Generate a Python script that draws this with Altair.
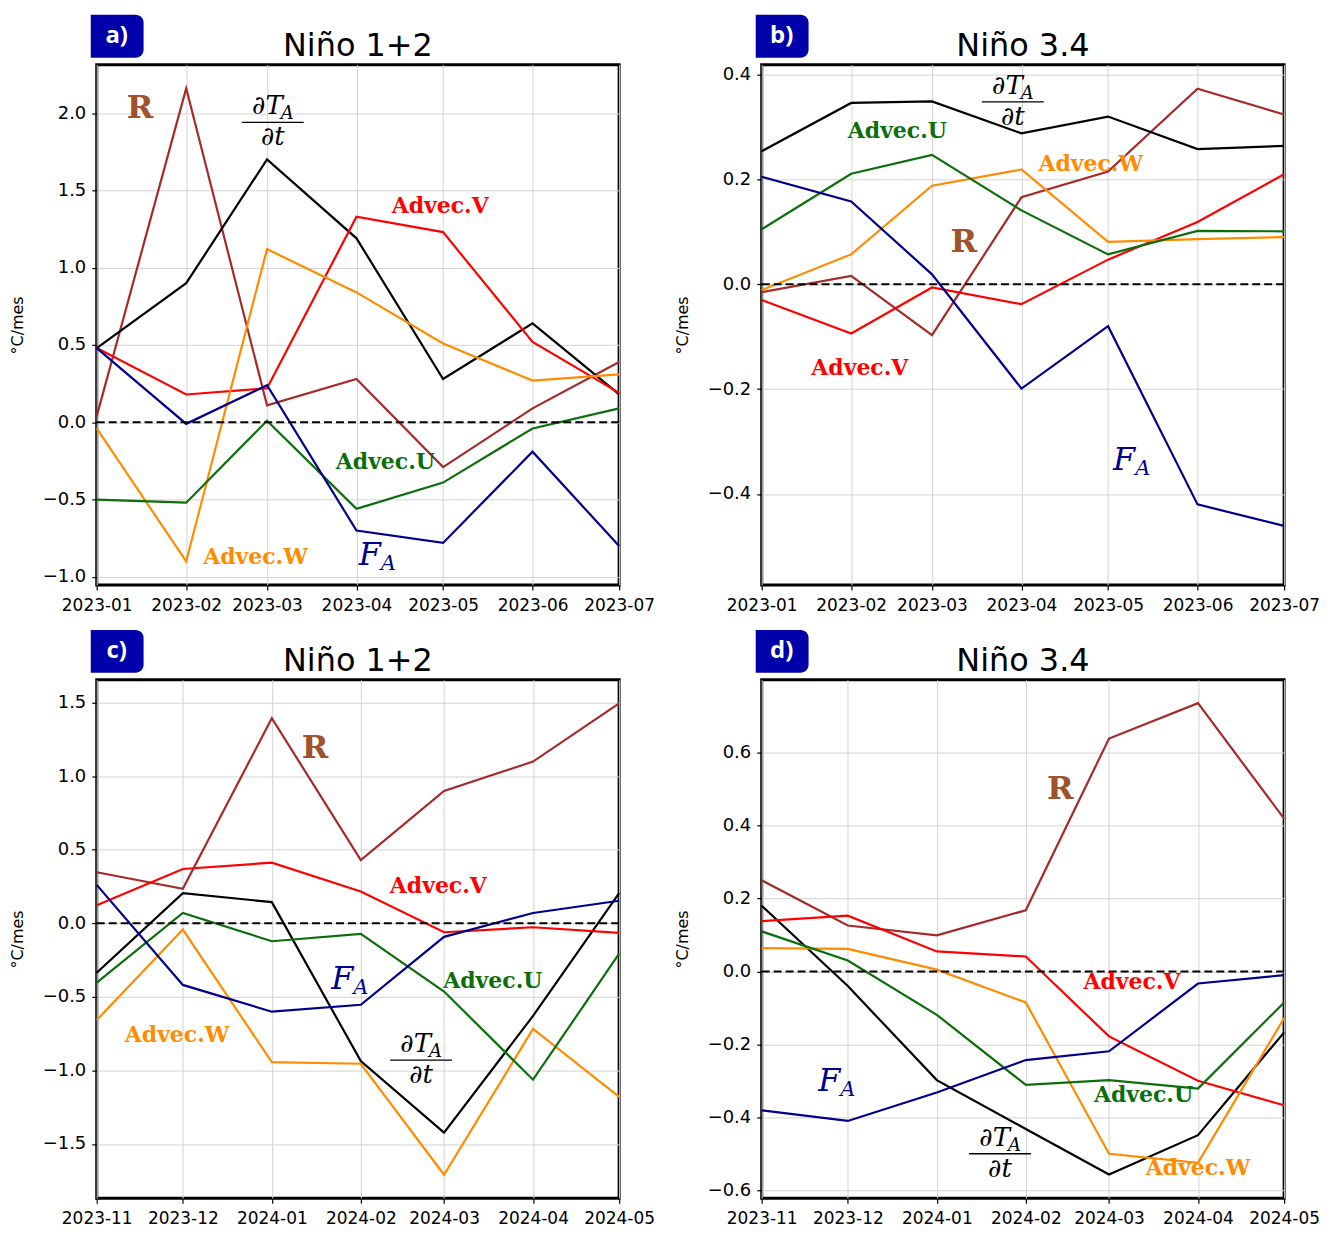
import altair as alt
import pandas as pd

# ---------------- data ----------------
SERIES = ["Advec.U", "Advec.V", "Advec.W", "F_A", "R", "dTdt"]
COLORS = ["#0b6e0b", "#ff0000", "#ff8c00", "#00008b", "#a52a2a", "#000000"]

MONTHS_1 = ["2023-01-01", "2023-02-01", "2023-03-01", "2023-04-01",
            "2023-05-01", "2023-06-01", "2023-07-01"]
MONTHS_2 = ["2023-11-01", "2023-12-01", "2024-01-01", "2024-02-01",
            "2024-03-01", "2024-04-01", "2024-05-01"]

# panel a) Niño 1+2, 2023-01 .. 2023-07
a_R = [0.04, 2.16, 0.11, 0.28, -0.29, 0.09, 0.39]
a_dT = [0.48, 0.90, 1.70, 1.19, 0.28, 0.64, 0.18]
a_V = [0.48, 0.18, 0.22, 1.33, 1.23, 0.52, 0.19]
a_W = [-0.04, -0.90, 1.12, 0.84, 0.51, 0.27, 0.31]
a_U = [-0.50, -0.52, 0.01, -0.56, -0.39, -0.04, 0.09]
a_F = [0.48, -0.01, 0.24, -0.70, -0.78, -0.19, -0.80]

# panel b) Niño 3.4, 2023-01 .. 2023-07
b_R = [-0.015, 0.016, -0.097, 0.166, 0.215, 0.373, 0.324]
b_dT = [0.254, 0.346, 0.349, 0.288, 0.320, 0.258, 0.264]
b_V = [-0.030, -0.094, -0.006, -0.038, 0.047, 0.119, 0.210]
b_W = [-0.011, 0.057, 0.188, 0.219, 0.081, 0.086, 0.090]
b_U = [0.105, 0.211, 0.247, 0.141, 0.057, 0.102, 0.101]
b_F = [0.205, 0.158, 0.019, -0.199, -0.080, -0.420, -0.461]

# panel c) Niño 1+2, 2023-11 .. 2024-05
c_R = [0.347, 0.234, 1.394, 0.430, 0.900, 1.099, 1.495]
c_dT = [-0.336, 0.205, 0.144, -0.937, -1.423, -0.63, 0.205]
c_V = [0.122, 0.369, 0.412, 0.216, -0.061, -0.027, -0.065]
c_W = [-0.658, -0.043, -0.944, -0.955, -1.709, -0.718, -1.180]
c_U = [-0.403, 0.070, -0.122, -0.072, -0.464, -1.063, -0.207]
c_F = [0.261, -0.419, -0.601, -0.554, -0.092, 0.070, 0.153]

# panel d) Niño 3.4, 2023-11 .. 2024-05
d_R = [0.250, 0.126, 0.099, 0.168, 0.639, 0.736, 0.419]
d_dT = [0.180, -0.040, -0.298, -0.432, -0.557, -0.449, -0.167]
d_V = [0.138, 0.153, 0.055, 0.041, -0.178, -0.300, -0.367]
d_W = [0.064, 0.062, 0.005, -0.085, -0.500, -0.525, -0.128]
d_U = [0.110, 0.030, -0.119, -0.311, -0.298, -0.321, -0.085]
d_F = [-0.381, -0.410, -0.332, -0.243, -0.219, -0.033, -0.010]

# y axis limits and ticks
YDOM_A = [-1.053, 2.313]
YDOM_B = [-0.574, 0.419]
YDOM_C = [-1.869, 1.655]
YDOM_D = [-0.622, 0.800]
YTICKS_A = [-1.0, -0.5, 0.0, 0.5, 1.0, 1.5, 2.0]
YTICKS_B = [-0.4, -0.2, 0.0, 0.2, 0.4]
YTICKS_C = [-1.5, -1.0, -0.5, 0.0, 0.5, 1.0, 1.5]
YTICKS_D = [-0.6, -0.4, -0.2, 0.0, 0.2, 0.4, 0.6]

# annotation anchors (label, date, value) in data coordinates
ANN_A = [("R", "2023-01-16", 2.03), ("frac", "2023-03-03", 1.94),
         ("Advec.V", "2023-04-30", 1.40), ("Advec.U", "2023-04-11", -0.26),
         ("Advec.W", "2023-02-25", -0.87), ("F_A", "2023-04-08", -0.86)]
ANN_B = [("frac", "2023-03-29", 0.348), ("Advec.U", "2023-02-17", 0.293),
         ("Advec.W", "2023-04-25", 0.229), ("R", "2023-03-12", 0.081),
         ("Advec.V", "2023-02-04", -0.159), ("F_A", "2023-05-09", -0.336)]
ANN_C = [("R", "2024-01-16", 1.19), ("Advec.V", "2024-02-28", 0.25),
         ("F_A", "2024-01-28", -0.38), ("Advec.U", "2024-03-18", -0.39),
         ("Advec.W", "2023-11-29", -0.76), ("frac", "2024-02-22", -0.93)]
ANN_D = [("R", "2024-02-13", 0.50), ("Advec.V", "2024-03-09", -0.028),
         ("Advec.U", "2024-03-13", -0.34), ("Advec.W", "2024-04-01", -0.54),
         ("F_A", "2023-11-27", -0.30), ("frac", "2024-01-23", -0.50)]

PW, PH1, PH2 = 524, 522, 520
MATH_FONT = "DejaVu Serif"


def dt(s):
    return alt.DateTime(year=int(s[:4]), month=int(s[5:7]), date=int(s[8:10]), utc=True)


def panel(months, vals, anns, ydom, yticks, title, tag, height):
    names = ["R", "dTdt", "Advec.V", "Advec.W", "Advec.U", "F_A"]
    rows = []
    for name, series in zip(names, vals):
        for m, v in zip(months, series):
            rows.append({"date": m, "value": v, "series": name})
    df = pd.DataFrame(rows)

    xenc = alt.X("date:T",
                 scale=alt.Scale(type="utc", domain=[dt(months[0]), dt(months[-1])]),
                 axis=alt.Axis(title=None, values=[dt(m) for m in months], format="%Y-%m",
                               labelOverlap=False, labelFlush=False, labelPadding=7,
                               labelFontSize=17))
    yenc = alt.Y("value:Q",
                 scale=alt.Scale(domain=ydom, nice=False, zero=False),
                 axis=alt.Axis(title="°C/mes", values=yticks, format=".1f",
                               labelPadding=6, minExtent=63, maxExtent=63, titlePadding=8))

    lines = alt.Chart(df).mark_line(strokeWidth=2.2).encode(
        x=xenc, y=yenc,
        color=alt.Color("series:N", scale=alt.Scale(domain=SERIES, range=COLORS), legend=None),
        detail="series:N")

    zero = alt.Chart(pd.DataFrame({"value": [0.0]})).mark_rule(
        color="black", strokeWidth=2, strokeDash=[8, 4]).encode(y=yenc)

    adf = pd.DataFrame(anns, columns=["label", "date", "value"])
    adv = adf[adf["label"].str.startswith("Advec")]
    rdf = adf[adf["label"] == "R"]
    fdf = adf[adf["label"] == "F_A"]
    qdf = adf[adf["label"] == "frac"]

    adv_t = alt.Chart(adv).mark_text(font=MATH_FONT, fontWeight="bold", fontSize=22,
                                     align="center", baseline="middle").encode(
        x=xenc, y=yenc, text="label:N",
        color=alt.Color("label:N", scale=alt.Scale(domain=SERIES, range=COLORS), legend=None))
    r_t = alt.Chart(rdf).mark_text(font=MATH_FONT, fontWeight="bold", fontSize=32,
                                   color="#a0522d", align="center", baseline="middle").encode(
        x=xenc, y=yenc, text=alt.value("R"))
    f_t = alt.Chart(fdf).mark_text(font=MATH_FONT, fontStyle="italic", fontSize=32,
                                   color="#00008b", align="center", baseline="middle",
                                   dx=-7).encode(x=xenc, y=yenc, text=alt.value("F"))
    fa_t = alt.Chart(fdf).mark_text(font=MATH_FONT, fontStyle="italic", fontSize=21,
                                    color="#00008b", align="left", baseline="middle",
                                    dx=4, dy=9).encode(x=xenc, y=yenc, text=alt.value("A"))
    num_t = alt.Chart(qdf).mark_text(font=MATH_FONT, fontStyle="italic", fontSize=26,
                                     color="black", align="right", baseline="alphabetic",
                                     dx=10, dy=-8).encode(x=xenc, y=yenc, text=alt.value("∂T"))
    sub_t = alt.Chart(qdf).mark_text(font=MATH_FONT, fontStyle="italic", fontSize=18,
                                     color="black", align="left", baseline="alphabetic",
                                     dx=8, dy=-3).encode(x=xenc, y=yenc, text=alt.value("A"))
    bar = alt.Chart(qdf).mark_rule(color="black", strokeWidth=1.3, xOffset=-31,
                                   x2Offset=31).encode(x=xenc, x2="date:T", y=yenc)
    den_t = alt.Chart(qdf).mark_text(font=MATH_FONT, fontStyle="italic", fontSize=26,
                                     color="black", align="center", baseline="alphabetic",
                                     dy=23).encode(x=xenc, y=yenc, text=alt.value("∂t"))

    tagdf = pd.DataFrame({"tag": [tag], "title": [title]})
    badge = alt.Chart(tagdf).mark_rect(color="#0000aa", cornerRadiusTopRight=8,
                                       cornerRadiusBottomRight=8).encode(
        x=alt.value(-6), x2=alt.value(47), y=alt.value(-50), y2=alt.value(-7))
    badge_t = alt.Chart(tagdf).mark_text(color="white", fontSize=24, fontWeight="bold",
                                         font="Open Sans", align="center",
                                         baseline="middle").encode(
        x=alt.value(20), y=alt.value(-29), text="tag:N")
    title_t = alt.Chart(tagdf).mark_text(color="black", fontSize=32, font="DejaVu Sans",
                                         align="center", baseline="alphabetic").encode(
        x=alt.value(PW / 2), y=alt.value(-9), text="title:N")

    return alt.layer(lines, zero, adv_t, r_t, f_t, fa_t, num_t, sub_t, bar, den_t,
                     badge, badge_t, title_t).properties(width=PW, height=height)


pa = panel(MONTHS_1, [a_R, a_dT, a_V, a_W, a_U, a_F], ANN_A, YDOM_A, YTICKS_A,
           "Niño 1+2", "a)", PH1)
pb = panel(MONTHS_1, [b_R, b_dT, b_V, b_W, b_U, b_F], ANN_B, YDOM_B, YTICKS_B,
           "Niño 3.4", "b)", PH1)
pc = panel(MONTHS_2, [c_R, c_dT, c_V, c_W, c_U, c_F], ANN_C, YDOM_C, YTICKS_C,
           "Niño 1+2", "c)", PH2)
pd_ = panel(MONTHS_2, [d_R, d_dT, d_V, d_W, d_U, d_F], ANN_D, YDOM_D, YTICKS_D,
            "Niño 3.4", "d)", PH2)

chart = alt.concat(pa, pb, pc, pd_, columns=2, spacing={"row": 95, "column": 143},
                   bounds="flush").resolve_scale(
    x="independent", y="independent", color="shared").properties(
    padding={"left": 0, "top": 3, "right": 0, "bottom": 0}).configure_view(
    stroke="black", strokeWidth=3).configure_axis(
    labelFont="DejaVu Sans", labelFontSize=18, labelColor="black",
    tickColor="black", tickSize=5, tickWidth=1.2, domain=False,
    grid=True, gridColor="#d3d3d3", gridWidth=1,
    titleFont="DejaVu Sans", titleFontSize=16, titleFontWeight="normal",
    titleColor="black")

chart.save("out.html", embed_options={"renderer": "svg", "actions": False})
